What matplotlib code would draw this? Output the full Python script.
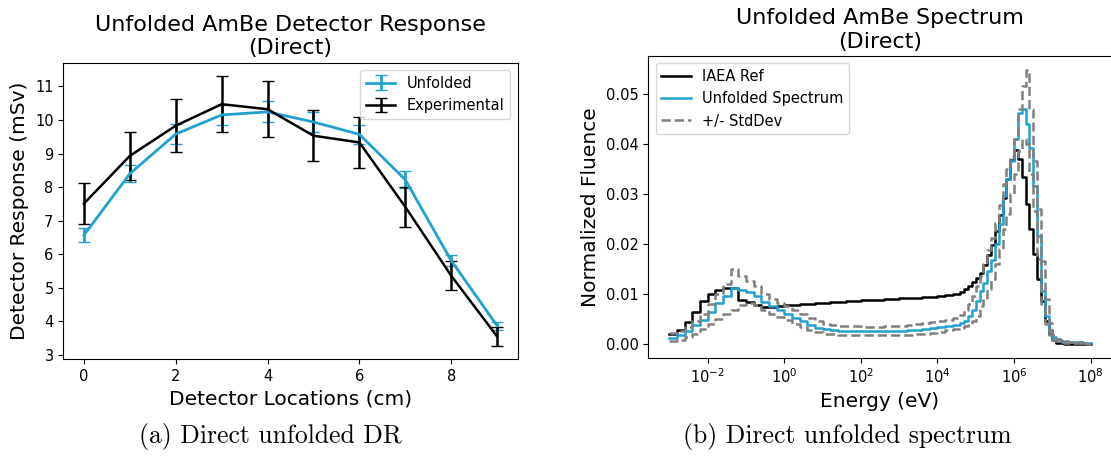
import numpy as np
import matplotlib
matplotlib.use("Agg")
import matplotlib.pyplot as plt

# detector response along the rod
locations = np.arange(10)
unfolded_dr = [6.57, 8.40, 9.58, 10.15, 10.24, 9.94, 9.57, 8.22, 5.81, 3.87]
unfolded_err = [0.20, 0.25, 0.29, 0.31, 0.31, 0.30, 0.29, 0.26, 0.17, 0.12]
experimental_dr = [7.51, 8.93, 9.83, 10.47, 10.32, 9.53, 9.33, 7.41, 5.36, 3.55]
experimental_err = [0.60, 0.71, 0.79, 0.84, 0.83, 0.76, 0.75, 0.59, 0.43, 0.28]

# group structure (log10 of lower bin energy in eV), finer around the fast peak
log_energy = np.round(np.r_[np.arange(-3.0, 4.61, 0.2), np.arange(4.7, 7.41, 0.1), [7.6, 7.8, 8.0]], 2)

iaea_ref = [
    0.0019, 0.0028, 0.0043, 0.0063, 0.0086, 0.0099, 0.0108, 0.0112, 0.0112, 0.0088,
    0.0083, 0.0077, 0.0073, 0.0073, 0.0075, 0.0077, 0.0078, 0.0079, 0.0080, 0.0081,
    0.0082, 0.0083, 0.0084, 0.0085, 0.0086, 0.0087, 0.0088, 0.0088, 0.0089, 0.0090,
    0.0091, 0.0091, 0.0092, 0.0093, 0.0094, 0.0095, 0.0097, 0.0100, 0.0104,
    0.0109, 0.0116, 0.0123, 0.0131, 0.0142, 0.0157, 0.0177, 0.0197, 0.0225, 0.0258,
    0.0292, 0.0330, 0.0368, 0.0388, 0.0370, 0.0333, 0.0280, 0.0230, 0.0180, 0.0130,
    0.0085, 0.0045, 0.0020, 0.0007, 0.0002, 0.0001, 0.0000, 0.0000,
    0.0000, 0.0000, 0.0000,
]
unfolded_spec = [
    0.0012, 0.0017, 0.0025, 0.0038, 0.0048, 0.0063, 0.0082, 0.0096, 0.0111, 0.0107,
    0.0103, 0.0095, 0.0083, 0.0075, 0.0068, 0.0059, 0.0052, 0.0045, 0.0038, 0.0032,
    0.0029, 0.0027, 0.0026, 0.0025, 0.0025, 0.0025, 0.0025, 0.0025, 0.0025, 0.0026,
    0.0026, 0.0027, 0.0028, 0.0030, 0.0032, 0.0033, 0.0035, 0.0038, 0.0042,
    0.0046, 0.0055, 0.0068, 0.0085, 0.0105, 0.0122, 0.0145, 0.0168, 0.0200, 0.0240,
    0.0295, 0.0330, 0.0366, 0.0410, 0.0462, 0.0470, 0.0440, 0.0392, 0.0315, 0.0215,
    0.0105, 0.0055, 0.0025, 0.0013, 0.0009, 0.0006, 0.0005, 0.0004,
    0.0003, 0.0002, 0.0002,
]
spec_upper = [
    0.0021, 0.0025, 0.0033, 0.0045, 0.0060, 0.0080, 0.0100, 0.0120, 0.0150, 0.0135,
    0.0125, 0.0115, 0.0100, 0.0090, 0.0082, 0.0075, 0.0068, 0.0060, 0.0052, 0.0045,
    0.0040, 0.0037, 0.0035, 0.0035, 0.0035, 0.0034, 0.0034, 0.0034, 0.0035, 0.0035,
    0.0036, 0.0037, 0.0039, 0.0041, 0.0043, 0.0045, 0.0048, 0.0052, 0.0058,
    0.0068, 0.0080, 0.0095, 0.0115, 0.0135, 0.0160, 0.0187, 0.0212, 0.0242, 0.0278,
    0.0320, 0.0350, 0.0375, 0.0410, 0.0470, 0.0515, 0.0548, 0.0470, 0.0365, 0.0270,
    0.0165, 0.0090, 0.0042, 0.0018, 0.0010, 0.0007, 0.0005, 0.0004,
    0.0003, 0.0002, 0.0001,
]
spec_lower = [
    0.0005, 0.0008, 0.0013, 0.0020, 0.0030, 0.0040, 0.0050, 0.0060, 0.0068, 0.0078,
    0.0082, 0.0078, 0.0068, 0.0060, 0.0053, 0.0047, 0.0040, 0.0034, 0.0028, 0.0023,
    0.0020, 0.0019, 0.0018, 0.0018, 0.0018, 0.0018, 0.0018, 0.0018, 0.0018, 0.0018,
    0.0018, 0.0018, 0.0019, 0.0020, 0.0022, 0.0024, 0.0027, 0.0030, 0.0032,
    0.0035, 0.0038, 0.0045, 0.0055, 0.0075, 0.0090, 0.0110, 0.0130, 0.0160, 0.0190,
    0.0230, 0.0260, 0.0300, 0.0340, 0.0385, 0.0410, 0.0400, 0.0340, 0.0265, 0.0170,
    0.0080, 0.0040, 0.0017, 0.0008, 0.0005, 0.0003, 0.0002, 0.0001,
    0.0001, 0.0000, 0.0000,
]

BLUE = "#22a1cf"
TITLE_FS, LABEL_FS, TICK_FS, LEG_FS, CAP_FS = 16, 14.5, 10.5, 10.5, 18.5


def draw_response(ax):
    ax.errorbar(locations, unfolded_dr, yerr=unfolded_err, color=BLUE, lw=2, capsize=4, label="Unfolded")
    ax.errorbar(locations, experimental_dr, yerr=experimental_err, color="black", lw=1.8, capsize=4, label="Experimental")
    ax.set_title("Unfolded AmBe Detector Response\n(Direct)", fontsize=TITLE_FS)
    ax.set_xlabel("Detector Locations (cm)", fontsize=LABEL_FS)
    ax.set_ylabel("Detector Response (mSv)", fontsize=LABEL_FS)
    ax.tick_params(labelsize=TICK_FS)
    ax.legend(loc="upper right", fontsize=LEG_FS)


def draw_spectrum(ax):
    energy = 10.0 ** log_energy
    ax.step(energy, iaea_ref, where="post", color="black", lw=1.8, label="IAEA Ref")
    ax.step(energy, unfolded_spec, where="post", color=BLUE, lw=1.8, label="Unfolded Spectrum")
    ax.step(energy, spec_upper, where="post", color="gray", lw=1.8, ls="--", label="+/- StdDev")
    ax.step(energy, spec_lower, where="post", color="gray", lw=1.8, ls="--")
    ax.set_xscale("log")
    ax.set_title("Unfolded AmBe Spectrum\n(Direct)", fontsize=TITLE_FS)
    ax.set_xlabel("Energy (eV)", fontsize=LABEL_FS)
    ax.set_ylabel("Normalized Fluence", fontsize=LABEL_FS)
    ax.tick_params(labelsize=TICK_FS)
    ax.legend(loc="upper left", fontsize=LEG_FS)


fig = plt.figure(figsize=(11.11, 4.63), dpi=100)
ax1 = fig.add_axes([0.057, 0.224, 0.409, 0.641])
ax2 = fig.add_axes([0.5835, 0.2274, 0.4172, 0.652])
draw_response(ax1)
draw_spectrum(ax2)

fig.text(0.243, 0.058, "(a) Direct unfolded DR", ha="center", va="center", fontsize=CAP_FS, family="cmr10")
fig.text(0.763, 0.058, "(b) Direct unfolded spectrum", ha="center", va="center", fontsize=CAP_FS, family="cmr10")

fig.savefig("out.png", dpi=100)
